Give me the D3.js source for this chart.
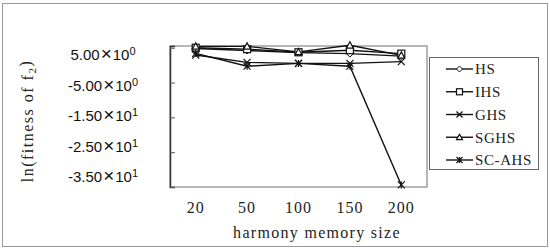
<!DOCTYPE html>
<html>
<head>
<meta charset="utf-8">
<script src="https://cdn.jsdelivr.net/npm/d3@7"></script>
<style>
  body { margin: 0; background: #fff; }
</style>
</head>
<body>
<div id="chart"></div>
<script>
const categories = ["20", "50", "100", "150", "200"];
const seriesNames = ["HS", "IHS", "GHS", "SGHS", "SC-AHS"];
const hsValues = [4.8, 4.2, 3.6, 3.3, 2.6];
const ihsValues = [5.0, 4.6, 3.7, 4.3, 3.3];
const ghsValues = [2.9, 0.8, 0.5, 0.5, 1.0];
const sghsValues = [5.4, 5.4, 3.8, 5.7, 2.8];
const scahsValues = [3.4, -0.3, 0.5, -0.3, -34.4];
const yTicks = [5, -5, -15, -25, -35];
const yTickMantissa = ["5.00", "-5.00", "-1.50", "-2.50", "-3.50"];
const yTickExponent = ["0", "0", "1", "1", "1"];

const series = [
  { name: seriesNames[0], values: hsValues, marker: "diamond" },
  { name: seriesNames[1], values: ihsValues, marker: "square" },
  { name: seriesNames[2], values: ghsValues, marker: "cross" },
  { name: seriesNames[3], values: sghsValues, marker: "triangle" },
  { name: seriesNames[4], values: scahsValues, marker: "star" }
];

const width = 550, height = 250;
const plot = { left: 170, right: 427, top: 46, bottom: 187 };
const serif = "'Liberation Serif', 'DejaVu Serif', serif";
const sans = "'Liberation Sans', Arial, sans-serif";

const svg = d3.select("#chart").append("svg")
  .attr("width", width)
  .attr("height", height);

// outer frame
svg.append("rect")
  .attr("x", 2.5).attr("y", 3.5)
  .attr("width", 545).attr("height", 243)
  .attr("fill", "#fff")
  .attr("stroke", "#999");

const x = d3.scalePoint()
  .domain(categories)
  .range([plot.left, plot.right])
  .padding(0.5);

const y = d3.scaleLinear()
  .domain([-35, 5.5])
  .range([plot.bottom, plot.top]);

// labels are spread a bit differently from the ticks in the original
const yLabel = d3.scaleLinear()
  .domain([5, -35])
  .range([55, 177]);

// plot box
svg.append("rect")
  .attr("x", plot.left).attr("y", plot.top)
  .attr("width", plot.right - plot.left)
  .attr("height", plot.bottom - plot.top)
  .attr("fill", "none")
  .attr("stroke", "#888")
  .attr("stroke-width", 1.2);

// y axis with inward ticks
const yAxis = svg.append("g")
  .attr("transform", `translate(${plot.left},0)`)
  .call(d3.axisRight(y).tickValues(yTicks).tickSize(5).tickFormat(""));
yAxis.select(".domain").attr("stroke", "#333").attr("stroke-width", 1.5);
yAxis.selectAll(".tick line").attr("stroke", "#555");

// y tick labels
const yl = svg.append("g").selectAll("text")
  .data(yTicks)
  .enter()
  .append("text")
  .attr("x", 103)
  .attr("y", d => yLabel(d))
  .attr("dy", "0.35em")
  .attr("text-anchor", "middle")
  .style("font-family", sans)
  .style("font-size", "15px")
  .attr("fill", "#111");
yl.append("tspan").text((d, i) => yTickMantissa[i]);
yl.append("tspan").text("\u00d7").style("font-size", "19px").style("font-weight", "200").attr("dx", 1);
yl.append("tspan").text("10").attr("dx", 1);
yl.append("tspan").text((d, i) => yTickExponent[i])
  .attr("dy", "-0.45em")
  .style("font-size", "11px");

// x tick labels
svg.append("g").selectAll("text")
  .data(categories)
  .enter()
  .append("text")
  .attr("x", d => x(d))
  .attr("y", 207)
  .attr("dy", "0.35em")
  .attr("text-anchor", "middle")
  .style("font-family", serif)
  .style("font-size", "16px")
  .style("letter-spacing", "1px")
  .attr("fill", "#222")
  .text(d => d);

// axis titles
svg.append("text")
  .attr("x", 317)
  .attr("y", 232)
  .attr("dy", "0.35em")
  .attr("text-anchor", "middle")
  .style("font-family", serif)
  .style("font-size", "16px")
  .style("letter-spacing", "1.3px")
  .attr("fill", "#222")
  .text("harmony memory size");

const yt = svg.append("text")
  .attr("transform", "translate(27,121) rotate(-90)")
  .attr("dy", "0.35em")
  .attr("text-anchor", "middle")
  .style("font-family", serif)
  .style("font-size", "16px")
  .style("letter-spacing", "1.5px")
  .attr("fill", "#222");
yt.append("tspan").text("ln(fitness of f");
yt.append("tspan").text("2").attr("dy", "0.3em").style("font-size", "11px");
yt.append("tspan").text(")").attr("dy", "-0.3em");

// marker drawing
function drawMarker(g, type, size) {
  const s = size / 2;
  if (type === "diamond") {
    g.append("path").attr("d", `M0,${-s}L${s},0L0,${s}L${-s},0Z`)
      .attr("fill", "#fff").attr("stroke", "#111").attr("stroke-width", 1);
  } else if (type === "square") {
    g.append("rect").attr("x", -s).attr("y", -s).attr("width", size).attr("height", size)
      .attr("fill", "#fff").attr("stroke", "#111").attr("stroke-width", 1.2);
  } else if (type === "cross") {
    g.append("path").attr("d", `M${-s},${-s}L${s},${s}M${-s},${s}L${s},${-s}`)
      .attr("stroke", "#111").attr("stroke-width", 1.2);
  } else if (type === "triangle") {
    g.append("path").attr("d", `M0,${-s}L${s},${s * 0.8}L${-s},${s * 0.8}Z`)
      .attr("fill", "#fff").attr("stroke", "#111").attr("stroke-width", 1.2);
  } else if (type === "star") {
    g.append("path").attr("d", `M${-s},${-s}L${s},${s}M${-s},${s}L${s},${-s}M0,${-s}L0,${s}`)
      .attr("stroke", "#111").attr("stroke-width", 1.2);
  }
}

const line = d3.line()
  .x((d, i) => x(categories[i]))
  .y(d => y(d));

const lines = svg.append("g");
series.forEach(s => {
  lines.append("path")
    .datum(s.values)
    .attr("d", line)
    .attr("fill", "none")
    .attr("stroke", "#111")
    .attr("stroke-width", 1.4);
});
series.forEach(s => {
  s.values.forEach((v, i) => {
    const g = lines.append("g").attr("transform", `translate(${x(categories[i])},${y(v)})`);
    drawMarker(g, s.marker, 7);
  });
});

// legend
const legend = svg.append("g");
legend.append("rect")
  .attr("x", 429.5).attr("y", 57.5)
  .attr("width", 109).attr("height", 112)
  .attr("fill", "#fff")
  .attr("stroke", "#666");

const legendY = d3.scalePoint()
  .domain(seriesNames)
  .range([69, 160]);

series.forEach(s => {
  const ly = legendY(s.name);
  legend.append("line")
    .attr("x1", 446).attr("x2", 473)
    .attr("y1", ly).attr("y2", ly)
    .attr("stroke", "#111").attr("stroke-width", 1.4);
  const g = legend.append("g").attr("transform", `translate(459.5,${ly})`);
  drawMarker(g, s.marker, 6);
  legend.append("text")
    .attr("x", 475)
    .attr("y", ly)
    .attr("dy", "0.35em")
    .style("font-family", serif)
    .style("font-size", "15px")
    .style("letter-spacing", "0.6px")
    .attr("fill", "#222")
    .text(s.name);
});
</script>
</body>
</html>
